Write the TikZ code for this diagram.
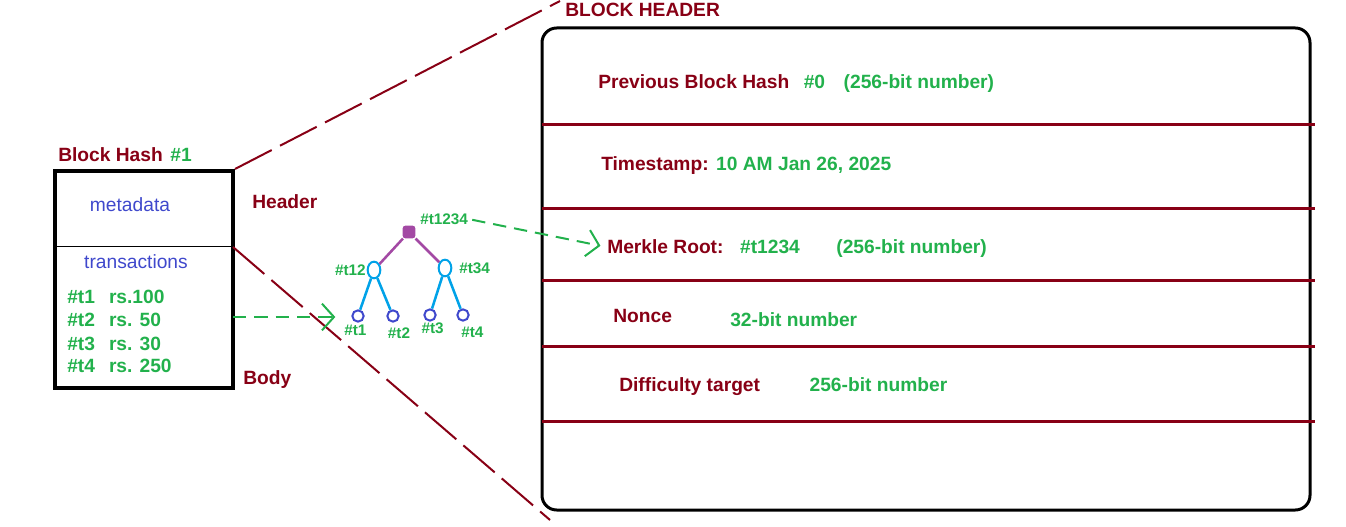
\documentclass[tikz,border=0pt]{standalone}
\usepackage{fontspec}
\setmainfont{Liberation Sans}
\usetikzlibrary{positioning, shapes.geometric, arrows.meta}

\definecolor{darkred}{RGB}{136,0,21}
\definecolor{hashgreen}{RGB}{34,177,76}
\definecolor{inkblue}{RGB}{63,72,204}
\definecolor{rootpurple}{RGB}{163,73,164}
\definecolor{branchcyan}{RGB}{0,162,232}

\begin{document}
\begin{tikzpicture}[x=0.75pt, y=-0.75pt, font=\bfseries\fontsize{14.4}{17}\selectfont,
    hdrfield/.style={text=darkred, inner sep=0pt, anchor=base west},
    fieldval/.style={text=hashgreen, inner sep=0pt},
    rowline/.style={darkred, line width=2.25pt},
    zoomline/.style={darkred, line width=1.5pt, dash pattern=on 31pt off 7pt},
    hashflow/.style={hashgreen, line width=1.5pt, dash pattern=on 10pt off 6pt, -{Straight Barb[length=9pt, width=20pt]}},
    leafhash/.style={circle, draw=inkblue, line width=1.5pt, inner sep=0pt, minimum size=8.5pt},
    midhash/.style={ellipse, draw=branchcyan, line width=1.5pt, inner sep=0pt, minimum width=9.5pt, minimum height=12.5pt},
    treetag/.style={text=hashgreen, inner sep=0pt, font=\bfseries\fontsize{11.5}{13}\selectfont}]
    \useasboundingbox (0,0) rectangle (1346,527);

    % block
    \node[draw, line width=3pt, minimum width=133.5pt, minimum height=162.75pt] (block) at (144,279.5) {};
    \node[hdrfield] (hashlbl) at (58,162) {Block Hash};
    \node[fieldval, base right=5.25pt of hashlbl] (hashval) {\#1};
    \coordinate (divleft) at (55,247);
    \coordinate (divright) at (233,247);
    \draw[line width=0.75pt] (divleft) -- (divright);
    \node[text=inkblue, font=\fontsize{14.4}{17}\selectfont] (meta) at (130,205) {metadata};
    \node[text=inkblue, font=\fontsize{14.4}{17}\selectfont] (txs) at (136,262) {transactions};
    \foreach \amt [count=\i] in {rs.100, rs. 50, rs. 30, rs. 250}
        \node[fieldval, anchor=base west] (tx\i) at (67,281+23*\i) {\#t\i\hspace{10.5pt}\amt};
    \node[hdrfield] (headerlbl) at (252,209) {Header};
    \node[hdrfield] (bodylbl) at (243,384) {Body};

    % block header
    \node[draw, line width=2.25pt, rounded corners=11pt, minimum width=576pt, minimum height=361.5pt] (hdrbox) at (926,269) {};
    \node[hdrfield] (hdrtitle) at (565,17) {BLOCK HEADER};
    \foreach \y in {125,209,281,347,421}
        \draw[rowline] (542,\y) -- (1315,\y);

    \node[hdrfield] (prevlbl) at (598,89) {Previous Block Hash};
    \node[fieldval, base right=10.5pt of prevlbl] (prevval) {\#0};
    \node[fieldval, base right=13.5pt of prevval] (prevsize) {(256-bit number)};
    \node[hdrfield] (timelbl) at (601,171) {Timestamp:};
    \node[fieldval, base right=5.25pt of timelbl] (timeval) {10 AM Jan 26, 2025};
    \node[hdrfield] (merklelbl) at (607,254) {Merkle Root:};
    \node[fieldval, base right=12pt of merklelbl] (merkleval) {\#t1234};
    \node[fieldval, base right=27pt of merkleval] (merklesize) {(256-bit number)};
    \node[hdrfield] (noncelbl) at (613,323) {Nonce};
    \node[fieldval, anchor=base west] (nonceval) at (730,327) {32-bit number};
    \node[hdrfield] (difflbl) at (619,391) {Difficulty target};
    \node[fieldval, base right=36.75pt of difflbl] (diffval) {256-bit number};

    % zoom
    \coordinate (toptip) at (560,1);
    \coordinate (bottip) at (550,520);
    \draw[zoomline] (block.north east) -- (toptip);
    \draw[zoomline] (divright) -- (bottip);

    % merkle tree
    \node[rectangle, rounded corners=2pt, fill=rootpurple, inner sep=0pt, minimum size=9.5pt] (root) at (409,232) {};
    \node[midhash] (t12) at (374,270) {};
    \node[midhash] (t34) at (445,268) {};
    \node[leafhash] (t1) at (358,316) {};
    \node[leafhash] (t2) at (393,316) {};
    \node[leafhash] (t3) at (430,315) {};
    \node[leafhash] (t4) at (463,315) {};
    \draw[rootpurple, line width=1.9pt] (root) -- (t12);
    \draw[rootpurple, line width=1.9pt] (root) -- (t34);
    \draw[branchcyan, line width=1.9pt] (t12) -- (t1);
    \draw[branchcyan, line width=1.9pt] (t12) -- (t2);
    \draw[branchcyan, line width=1.9pt] (t34) -- (t3);
    \draw[branchcyan, line width=1.9pt] (t34) -- (t4);

    \node[treetag, anchor=west] (rootlbl) at (420,219) {\#t1234};
    \node[treetag, left=0.5pt of t12] (t12lbl) {\#t12};
    \node[treetag, right=5pt of t34] (t34lbl) {\#t34};
    \node[treetag, below=1.5pt of t1, xshift=-2pt] (t1lbl) {\#t1};
    \node[treetag, below=4pt of t2, xshift=4.5pt] (t2lbl) {\#t2};
    \node[treetag, below=1pt of t3, xshift=2pt] (t3lbl) {\#t3};
    \node[treetag, below=4pt of t4, xshift=7pt] (t4lbl) {\#t4};

    \coordinate (txout) at (233,317);
    \draw[hashflow, shorten >=12pt] (txout) -- (txout -| t1.west);
    \draw[hashflow, shorten <=3pt, shorten >=5pt] (rootlbl.east) -- (merklelbl.west);
\end{tikzpicture}
\end{document}
